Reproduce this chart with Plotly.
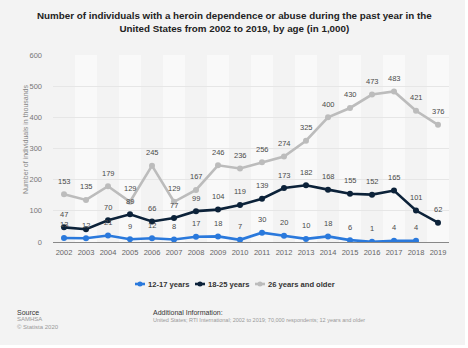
import plotly.graph_objects as go

years = list(range(2002, 2020))
teens = [13, 12, 21, 9, 12, 8, 17, 18, 7, 30, 20, 10, 18, 6, 1, 4, 4, None]
young_adults = [47, 41, 70, 89, 66, 77, 99, 104, 119, 139, 173, 182, 168, 155, 152, 165, 101, 62]
older = [153, 135, 179, 129, 245, 129, 167, 246, 236, 256, 274, 325, 400, 430, 473, 483, 421, 376]
# value labels that are left off because they collide with another series' label
hidden_labels = {("18-25 years", 2003)}

series = [
    ("12-17 years", teens, "#2a79dc"),
    ("18-25 years", young_adults, "#0c2239"),
    ("26 years and older", older, "#bcbcbc"),
]

FONT = "Liberation Sans, Arial, sans-serif"
W, H = 468, 348
ML, MR, MT, MB = 53, 19, 55, 106
PW, PH = W - ML - MR, H - MT - MB


def px_x(px):
    return (px - ML) / PW


def px_y(py):
    return (H - MB - py) / PH


fig = go.Figure()

for name, vals, color in series:
    fig.add_trace(go.Scatter(
        x=years, y=vals, name=name, mode="lines+markers",
        line=dict(color=color, width=2.6),
        marker=dict(color=color, size=6),
        connectgaps=False, showlegend=False,
    ))

annotations = []
for name, vals, color in series:
    for yr, v in zip(years, vals):
        if v is None or (name, yr) in hidden_labels:
            continue
        annotations.append(dict(
            x=yr, y=v, xref="x", yref="y", text=str(v), showarrow=False,
            yshift=13, font=dict(family=FONT, size=7.5, color="#4a4a4a")))

# light grey card behind everything, then alternating column bands
shapes = [dict(type="rect", xref="paper", yref="paper",
               x0=px_x(0), x1=px_x(465), y0=px_y(345), y1=px_y(0),
               fillcolor="#f3f3f3", line=dict(width=0), layer="below")]
for i, yr in enumerate(years):
    if i % 2 == 1:
        shapes.append(dict(type="rect", xref="x", yref="paper",
                           x0=yr - 0.5, x1=yr + 0.5, y0=0, y1=1,
                           fillcolor="#f9f9f9", line=dict(width=0), layer="below"))

# compact legend row under the axis
legend_x = [135, 195, 255]
ly = px_y(284)
for (name, vals, color), lx in zip(series, legend_x):
    shapes.append(dict(type="line", xref="paper", yref="paper",
                       x0=px_x(lx), x1=px_x(lx + 10), y0=ly, y1=ly,
                       line=dict(color=color, width=2.6)))
    shapes.append(dict(type="circle", xref="paper", yref="paper",
                       x0=px_x(lx + 2.5), x1=px_x(lx + 7.5),
                       y0=ly - 2.5 / PH, y1=ly + 2.5 / PH,
                       fillcolor=color, line=dict(width=0)))
    annotations.append(dict(text="<b>" + name + "</b>", xref="paper", yref="paper",
                            x=px_x(lx + 11), xanchor="left", y=ly, yanchor="middle",
                            showarrow=False,
                            font=dict(family=FONT, size=7.6, color="#333")))

annotations += [
    dict(text="<b>Number of individuals with a heroin dependence or abuse during the past year in the<br>United States from 2002 to 2019, by age (in 1,000)</b>",
         xref="paper", yref="paper", x=px_x(234), xanchor="center", y=px_y(22), yanchor="middle",
         showarrow=False, font=dict(family=FONT, size=9.8, color="#222"), align="center"),
    dict(text="Number of individuals in thousands", xref="paper", yref="paper",
         x=px_x(25), xanchor="center", y=px_y(140), yanchor="middle", textangle=-90,
         showarrow=False, font=dict(family=FONT, size=7, color="#888")),
    dict(text="Source", xref="paper", yref="paper", x=px_x(15), xanchor="left",
         y=px_y(312), yanchor="middle", showarrow=False,
         font=dict(family=FONT, size=7, color="#333")),
    dict(text="SAMHSA<br>© Statista 2020", xref="paper", yref="paper", x=px_x(15),
         xanchor="left", y=px_y(323), yanchor="middle", showarrow=False, align="left",
         font=dict(family=FONT, size=6, color="#999")),
    dict(text="Additional Information:", xref="paper", yref="paper", x=px_x(151),
         xanchor="left", y=px_y(312), yanchor="middle", showarrow=False,
         font=dict(family=FONT, size=7, color="#333")),
    dict(text="United States; RTI International; 2002 to 2019; 70,000 respondents; 12 years and older",
         xref="paper", yref="paper", x=px_x(151), xanchor="left", y=px_y(319.5),
         yanchor="middle", showarrow=False, font=dict(family=FONT, size=5.5, color="#999")),
]

fig.update_layout(
    width=W, height=H,
    margin=dict(l=ML, r=MR, t=MT, b=MB),
    paper_bgcolor="#ffffff", plot_bgcolor="rgba(0,0,0,0)",
    font=dict(family=FONT, color="#666"),
    showlegend=False,
    xaxis=dict(range=[2001.5, 2019.5], tickmode="array", tickvals=years,
               ticktext=[str(y) for y in years], showgrid=False, zeroline=False,
               showline=False, ticks="", tickfont=dict(size=7.5, color="#666"),
               ticklabelstandoff=4),
    yaxis=dict(range=[0, 600], dtick=100, showgrid=True, gridcolor="#e6e6e6",
               gridwidth=1, zeroline=True, zerolinecolor="#888", zerolinewidth=1,
               tickfont=dict(size=7.5, color="#777"), ticks="", ticklabelstandoff=10),
    shapes=shapes,
    annotations=annotations,
)

fig.write_html("out.html")
